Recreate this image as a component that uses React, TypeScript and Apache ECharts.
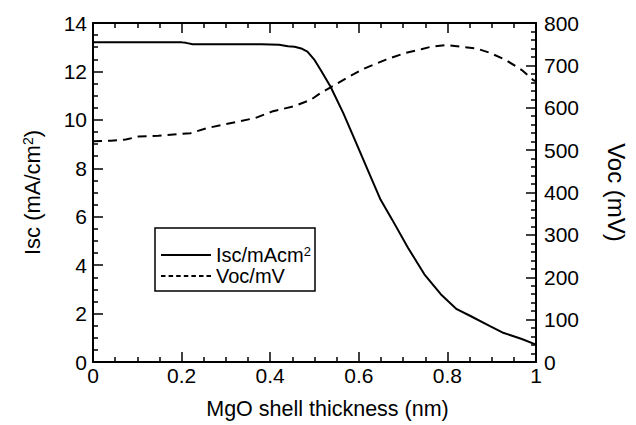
import React, { useEffect, useRef } from "react";
import * as echarts from "echarts";

const iscData: [number, number][] = [
  [0, 13.2], [0.1, 13.2], [0.2, 13.2], [0.21, 13.18], [0.225, 13.12], [0.3, 13.12],
  [0.38, 13.12], [0.42, 13.1], [0.44, 13.04], [0.455, 13.02], [0.47, 12.95],
  [0.484, 12.82], [0.499, 12.5], [0.514, 12.06], [0.536, 11.38], [0.565, 10.28],
  [0.594, 9.05], [0.623, 7.81], [0.649, 6.71], [0.675, 5.89], [0.711, 4.72],
  [0.748, 3.62], [0.785, 2.8], [0.821, 2.18], [0.851, 1.91], [0.895, 1.49],
  [0.924, 1.22], [0.968, 0.95], [1.0, 0.72],
];

const vocData: [number, number][] = [
  [0, 521], [0.04, 522], [0.074, 525], [0.103, 532], [0.147, 534], [0.22, 540],
  [0.257, 552], [0.294, 560], [0.367, 576], [0.404, 591], [0.455, 604],
  [0.492, 619], [0.514, 635], [0.543, 652], [0.572, 670], [0.609, 691],
  [0.66, 713], [0.704, 729], [0.741, 738], [0.763, 744], [0.799, 748],
  [0.829, 744], [0.865, 740], [0.895, 730], [0.931, 713], [0.968, 689],
  [0.993, 666], [1.0, 662],
];

const xLabel = "MgO shell thickness (nm)";
const leftName = "{a|Isc (mA/cm}{s|2}{a|)}";
const rightName = "Voc (mV)";
const seriesNames = ["Isc/mAcm2", "Voc/mV"];

const FONT = "Liberation Sans, Arial, Helvetica, sans-serif";
const SOLID_ICON = "path://M0,0h50v2h-50z";
const DASH_ICON =
  "path://M0,0h4.5v2h-4.5zM7.6,0h4.5v2h-4.5zM15.2,0h4.5v2h-4.5zM22.8,0h4.5v2h-4.5zM30.4,0h4.5v2h-4.5zM38,0h4.5v2h-4.5zM45.5,0h4.5v2h-4.5z";

export default function App() {
  const ref = useRef<HTMLDivElement>(null);
  useEffect(() => {
    if (!ref.current) return;
    const chart = echarts.init(ref.current, undefined, { renderer: "svg" });
    const axisLine = { show: true, onZero: false, lineStyle: { color: "#000", width: 2 } };
    const tick = { show: true, inside: true, length: 10, lineStyle: { color: "#000", width: 1.5 } };
    const label = { color: "#000", fontSize: 21, fontFamily: FONT };
    chart.setOption({
      animation: false,
      backgroundColor: "#fff",
      textStyle: { fontFamily: FONT, color: "#000" },
      grid: { left: 93, right: 88, top: 23, bottom: 62, containLabel: false },
      legend: {
        orient: "vertical",
        left: 155,
        top: 228,
        borderColor: "#000",
        borderWidth: 1.5,
        padding: [17, 4, 5, 6],
        itemGap: 1,
        itemWidth: 50,
        itemHeight: 2,
        data: [
          { name: seriesNames[0], icon: SOLID_ICON },
          { name: seriesNames[1], icon: DASH_ICON },
        ],
        textStyle: {
          color: "#000",
          fontSize: 20,
          fontFamily: FONT,
          rich: {
            a: { fontSize: 20, fontFamily: FONT, color: "#000" },
            s: { fontSize: 13, fontFamily: FONT, color: "#000", verticalAlign: "top", lineHeight: 14 },
          },
        },
        formatter: (n: string) => (n === "Isc/mAcm2" ? "{a|Isc/mAcm}{s|2}" : n),
      },
      xAxis: [
        {
          type: "value",
          position: "bottom",
          min: 0,
          max: 1,
          interval: 0.2,
          name: xLabel,
          nameLocation: "middle",
          nameGap: 36,
          nameTextStyle: { color: "#000", fontSize: 21.5, fontFamily: FONT, padding: [0, 0, 0, 26] },
          axisLine,
          axisTick: tick,
          minorTick: { show: true, splitNumber: 4, length: 5, lineStyle: { color: "#000", width: 1.5 } },
          axisLabel: { ...label, margin: 3, formatter: (v: number) => String(+v.toFixed(1)) },
          splitLine: { show: false },
        },
        {
          type: "value",
          position: "top",
          min: 0,
          max: 1,
          interval: 0.2,
          axisLine,
          axisTick: tick,
          minorTick: { show: true, splitNumber: 4, length: 5, lineStyle: { color: "#000", width: 1.5 } },
          axisLabel: { show: false },
          splitLine: { show: false },
        },
      ],
      yAxis: [
        {
          type: "value",
          position: "left",
          min: 0,
          max: 14,
          interval: 2,
          name: leftName,
          nameLocation: "middle",
          nameGap: 50,
          nameRotate: 90,
          nameTextStyle: {
            color: "#000",
            fontSize: 22,
            fontFamily: FONT,
            rich: {
              a: { fontSize: 22, fontFamily: FONT, color: "#000" },
              s: { fontSize: 14, fontFamily: FONT, color: "#000", verticalAlign: "top", lineHeight: 14 },
            },
          },
          axisLine,
          axisTick: tick,
          minorTick: { show: true, splitNumber: 4, length: 5, lineStyle: { color: "#000", width: 1.5 } },
          axisLabel: { ...label, margin: 6 },
          splitLine: { show: false },
        },
        {
          type: "value",
          position: "right",
          min: 0,
          max: 800,
          interval: 100,
          name: rightName,
          nameLocation: "middle",
          nameGap: 68,
          nameRotate: -90,
          nameTextStyle: { color: "#000", fontSize: 24, fontFamily: FONT },
          axisLine,
          axisTick: tick,
          minorTick: { show: true, splitNumber: 5, length: 5, lineStyle: { color: "#000", width: 1.5 } },
          axisLabel: { ...label, margin: 8 },
          splitLine: { show: false },
        },
      ],
      series: [
        {
          name: seriesNames[0],
          type: "line",
          xAxisIndex: 0,
          yAxisIndex: 0,
          data: iscData,
          symbol: "none",
          lineStyle: { color: "#000", width: 2, type: "solid" },
          itemStyle: { color: "#000" },
        },
        {
          name: seriesNames[1],
          type: "line",
          xAxisIndex: 0,
          yAxisIndex: 1,
          data: vocData,
          symbol: "none",
          lineStyle: { color: "#000", width: 2, type: [9, 6] },
          itemStyle: { color: "#000" },
        },
      ],
    });
    return () => chart.dispose();
  }, []);
  return <div ref={ref} style={{ width: 636, height: 425, position: "absolute", left: 0, top: 0 }} />;
}
